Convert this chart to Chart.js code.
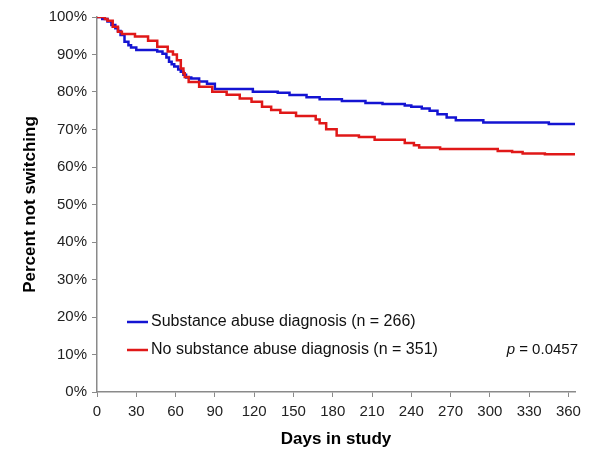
<!DOCTYPE html>
<html><head><meta charset="utf-8">
<script src="https://cdn.jsdelivr.net/npm/chart.js@4"></script>
<style>html,body{margin:0;padding:0;background:#fff}#wrap{width:600px;height:462px}</style>
</head><body><div id="wrap"><canvas id="c" width="600" height="462"></canvas></div>
<script>
const blueDays = [0,4,8,11,14,16,18,21,24,26,30,46,50,53,55,57,59,62,64,66,68,72,78,84,90,119,138,147,160,170,187,205,218,235,240,248,254,260,267,274,295,345,365];
const blueSurv = [100,99.5,98.8,97.9,97,96.3,95.2,93.4,92.5,91.9,91.2,90.8,90.2,89.2,88.1,87.4,86.8,86,85.4,84.6,83.9,83.6,82.8,82.2,80.8,80.1,79.8,79.2,78.6,78.1,77.6,77.1,76.8,76.4,76.1,75.6,75,74.1,73.2,72.5,71.9,71.5,71.5];
const redDays = [0,6,8,12,16,19,29,39,46,54,58,61,64,66,67,70,78,88,99,109,118,126,133,140,152,167,170,175,183,200,212,235,242,246,262,306,317,325,342,365];
const redSurv = [100,99.5,99,97.4,96.1,95.5,94.8,93.7,92.1,90.8,90,88.5,86.3,85,84,82.7,81.4,80.1,79.3,78.3,77.4,76.1,75.2,74.5,73.6,72.7,71.7,70.1,68.4,68,67.3,66.4,65.8,65.2,64.8,64.3,64,63.6,63.4,63.4];
const xTicks = [0,30,60,90,120,150,180,210,240,270,300,330,360];
const yTicks = [0,10,20,30,40,50,60,70,80,90,100];
const seriesLabels = ['Substance abuse diagnosis (n = 266)', 'No substance abuse diagnosis (n = 351)'];
const pValue = '0.0457';
const xTitle = 'Days in study';
const yTitle = 'Percent not switching';

const BLUE = '#1414d2', RED = '#e01818', AXIS = '#8a8a8a';
const FAM = '"Liberation Sans", Arial, sans-serif';
const toPts = (d, s) => d.map((v, i) => ({x: v, y: s[i]}));

const legendPlugin = {
  id: 'kmLegend',
  afterDraw(chart) {
    const ctx = chart.ctx;
    ctx.save();
    const rows = [[BLUE, seriesLabels[0], 322], [RED, seriesLabels[1], 350]];
    ctx.font = '16px ' + FAM;
    ctx.textBaseline = 'middle';
    ctx.fillStyle = '#111';
    rows.forEach(([c, t, y]) => {
      ctx.strokeStyle = c; ctx.lineWidth = 2.5;
      ctx.beginPath(); ctx.moveTo(127, y); ctx.lineTo(148, y); ctx.stroke();
      ctx.textAlign = 'left';
      ctx.fillText(t, 151, y);
    });
    ctx.font = '15px ' + FAM;
    ctx.textAlign = 'right';
    const rest = ' = ' + pValue;
    const wRest = ctx.measureText(rest).width;
    ctx.fillText(rest, 578, 350);
    ctx.font = 'italic 15px ' + FAM;
    ctx.fillText('p', 578 - wRest, 350);
    ctx.restore();
  }
};

new Chart(document.getElementById('c'), {
  type: 'line',
  data: {
    datasets: [
      {label: seriesLabels[1], data: toPts(redDays, redSurv), borderColor: RED, borderWidth: 2.5, stepped: true, pointRadius: 0, fill: false, order: 0},
      {label: seriesLabels[0], data: toPts(blueDays, blueSurv), borderColor: BLUE, borderWidth: 2.5, stepped: true, pointRadius: 0, fill: false, order: 1}
    ]
  },
  options: {
    responsive: false, animation: false, devicePixelRatio: 1,
    layout: {padding: {top: 17, right: 25, left: 0, bottom: 0}},
    plugins: {legend: {display: false}, tooltip: {enabled: false}},
    scales: {
      x: {
        type: 'linear', min: 0, max: 365,
        afterBuildTicks: s => { s.ticks = xTicks.map(v => ({value: v})); },
        afterFit: s => { s.height = 70; },
        ticks: {font: {family: FAM, size: 15}, color: '#222', maxRotation: 0, autoSkip: false, padding: 6},
        grid: {drawOnChartArea: false, drawTicks: true, tickLength: 5, color: AXIS},
        border: {display: true, color: AXIS, width: 1.5},
        title: {display: true, text: xTitle, color: '#000', font: {family: FAM, size: 17, weight: 'bold'}, padding: {top: 0, bottom: 12}}
      },
      y: {
        type: 'linear', min: 0, max: 100,
        afterBuildTicks: s => { s.ticks = yTicks.map(v => ({value: v})); },
        afterFit: s => { s.width = 97; },
        ticks: {font: {family: FAM, size: 15}, color: '#222', padding: 5, callback: v => v + '%'},
        grid: {drawOnChartArea: false, drawTicks: true, tickLength: 5, color: AXIS},
        border: {display: true, color: AXIS, width: 1.5},
        title: {display: true, text: yTitle, color: '#000', font: {family: FAM, size: 17, weight: 'bold'}, padding: {top: 20, bottom: 0}}
      }
    }
  },
  plugins: [legendPlugin]
});
</script></body></html>
